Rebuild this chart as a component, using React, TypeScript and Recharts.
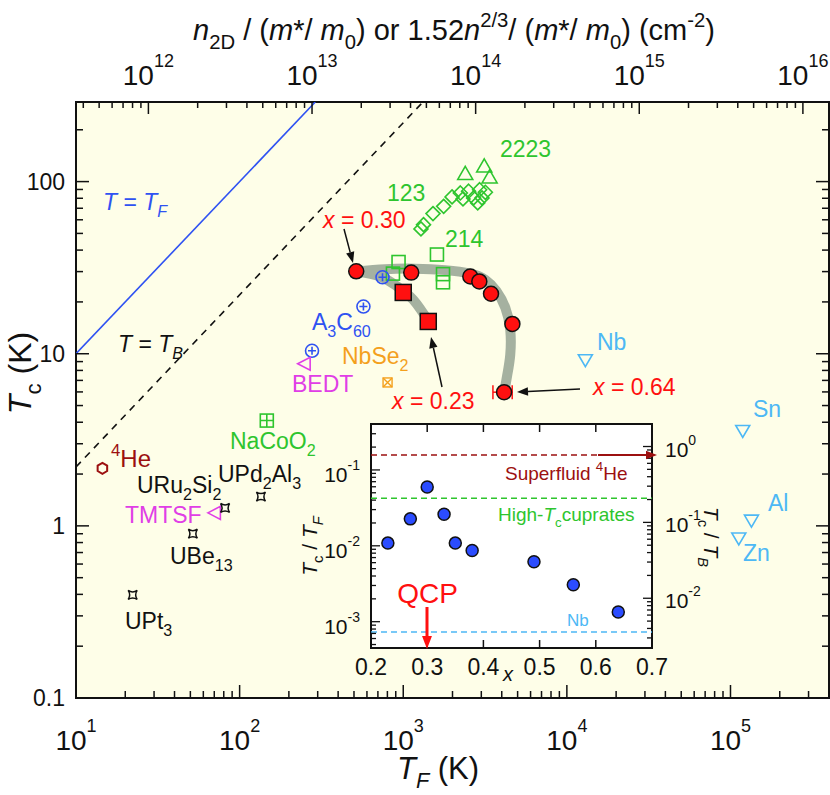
import React from "react";
import {
  ScatterChart,
  Scatter,
  XAxis,
  YAxis,
  CartesianGrid,
  ReferenceArea,
  ReferenceLine,
  ErrorBar,
} from "recharts";

const FONT = "'Liberation Sans', Arial, Helvetica, sans-serif";
const INK = "#111";
const RED = "#ff1010";
const GREEN = "#2ec52e";
const LBLUE = "#4db8f5";
const DRED = "#9c1010";
const MAGENTA = "#e03ee6";
const ORANGE = "#f4a01c";
const BLUE = "#2f52f2";

// ---- main panel: T_c (K) vs T_F (K) ----
const TF_DOMAIN = [10, 4e5];
const TC_DOMAIN = [0.1, 290];
const N_PER_K = 3.61e10; // top axis: n2D/(m*/m0) per kelvin of T_F
const N_DOMAIN = [TF_DOMAIN[0] * N_PER_K, TF_DOMAIN[1] * N_PER_K];
const nAnchor = [{ x: N_DOMAIN[0], y: 1 }, { x: N_DOMAIN[1], y: 1 }];

const tfLine = [{ x: 10, y: 10 }, { x: 290, y: 290 }];
const tbLine = [{ x: 10, y: 2.2 }, { x: 1320, y: 290 }];

// guide band through the doping series
const bandUpperTF = [516, 776, 1183, 1806, 2570, 3175, 3707, 4207, 4508, 4508, 4324, 4148];
const bandUpperTc = [30.1, 31.0, 31.2, 30.6, 29.2, 26.9, 23.2, 18.5, 13.8, 9.87, 7.55, 6.01];
const bandLowerTF = [516, 723, 918, 1151, 1462];
const bandLowerTc = [30.1, 28.1, 24.6, 20.6, 14.9];

// doping series, x = 0.30 ... 0.64 (circles) and x = 0.27, 0.23 (squares)
const circleTF = [516, 1119, 2570, 2917, 3439, 4645, 4133];
const circleTc = [30.1, 29.6, 28.1, 26.3, 22.3, 14.9, 5.98];
const squareTF = [1000, 1422];
const squareTc = [22.7, 15.4];
const x064Err = [{ x: 4133, y: 5.98, ex: [600, 500] }];

// cuprates
const y123TF = [1283, 1330, 1520, 1766, 1987, 2233, 2318, 2508, 2692, 2929, 3028, 3175, 2852];
const y123Tc = [53.1, 56.2, 65.2, 71.8, 81.5, 85.9, 79.3, 87.9, 80.4, 89.7, 80.4, 86.7, 75.2];
const b2223TF = [2393, 3126, 3371];
const b2223Tc = [110, 121.6, 105];
const l214TF = [936, 865, 1607, 1750, 1750];
const l214Tc = [34.1, 29.2, 37.7, 29.0, 26.0];

// other superconductors
const a3c60TF = [747, 571, 277];
const a3c60Tc = [27.8, 18.8, 10.4];
const bedt = [{ x: 248, y: 8.75 }];
const nbse2 = [{ x: 802, y: 6.81 }];
const nacoo2 = [{ x: 146.6, y: 4.09 }];
const he4 = [{ x: 14.5, y: 2.16 }];
const tmtsf = [{ x: 70.1, y: 1.19 }];
const heavyTF = [135, 81.5, 51.8, 22.2]; // UPd2Al3, URu2Si2, UBe13, UPt3
const heavyTc = [1.48, 1.27, 0.9, 0.397];
const elemTF = [12970, 118800, 134300, 112400]; // Nb, Sn, Al, Zn
const elemTc = [9.23, 3.58, 1.08, 0.85];

// ---- inset: T_c/T_F vs x ----
const insetX = [0.23, 0.27, 0.3, 0.33, 0.35, 0.38, 0.49, 0.56, 0.64];
const insetRatio = [0.01086, 0.02265, 0.0597, 0.0261, 0.01086, 0.00867, 0.00615, 0.00307, 0.00134];
const HE4_RATIO = 0.157;
const CUPRATE_RATIO = 0.0425;
const NB_RATIO = 7.3e-4;
const INSET_L_DOMAIN = [4.5e-4, 0.403];
const INSET_R_DOMAIN = [2.21e-3, 1.98];
const INSET_X_TICKS = [0.2, 0.3, 0.4, 0.5, 0.6, 0.7];

const zip = (xs: number[], ys: number[]) => xs.map((x, i) => ({ x, y: ys[i] }));

function decades(lo: number, hi: number) {
  const out: number[] = [];
  for (let e = Math.floor(Math.log10(lo)); e <= Math.ceil(Math.log10(hi)); e++) {
    for (let m = 1; m <= 9; m++) {
      const v = +(m * Math.pow(10, e)).toPrecision(3);
      if (v >= lo * 0.999 && v <= hi * 1.001) out.push(v);
    }
  }
  return out;
}
const isMaj = (v: number) => Math.abs(Math.log10(v) - Math.round(Math.log10(v))) < 1e-6;

// ---- tick renderers ----
const BottomTick = (p: any) => {
  const { x, y } = p;
  const v = p.payload.value;
  const maj = isMaj(v);
  return (
    <g>
      <line x1={x} y1={y} x2={x} y2={y - (maj ? 13 : 7)} stroke={INK} strokeWidth={1.5} />
      {maj && (
        <text x={x} y={y + 52} textAnchor="middle" fontFamily={FONT} fontSize={28} fill={INK}>
          10<tspan dy={-18} fontSize={18}>{Math.round(Math.log10(v))}</tspan>
        </text>
      )}
    </g>
  );
};

const TopTick = (p: any) => {
  const { x, y } = p;
  const v = p.payload.value;
  const maj = isMaj(v);
  return (
    <g>
      <line x1={x} y1={y} x2={x} y2={y + (maj ? 12 : 6)} stroke={INK} strokeWidth={1.5} />
      {maj && (
        <text x={x} y={y - 17} textAnchor="middle" fontFamily={FONT} fontSize={28} fill={INK}>
          10<tspan dy={-18} fontSize={18}>{Math.round(Math.log10(v))}</tspan>
        </text>
      )}
    </g>
  );
};

const PLOT_W = 753;
const LeftTick = (p: any) => {
  const { x, y } = p;
  const v = p.payload.value;
  const maj = isMaj(v);
  const len = maj ? 13 : 7;
  return (
    <g>
      <line x1={x} y1={y} x2={x + len} y2={y} stroke={INK} strokeWidth={1.5} />
      <line x1={x + PLOT_W} y1={y} x2={x + PLOT_W - len} y2={y} stroke={INK} strokeWidth={1.5} />
      {maj && (
        <text x={x - 11} y={y + 8} textAnchor="end" fontFamily={FONT} fontSize={23} fill={INK}>
          {String(v)}
        </text>
      )}
    </g>
  );
};

const INSET_H = 224;
const InsetBottomTick = (p: any) => {
  const { x, y } = p;
  const v = p.payload.value;
  return (
    <g>
      <line x1={x} y1={y} x2={x} y2={y - 8} stroke={INK} strokeWidth={1.5} />
      <line x1={x} y1={y - INSET_H} x2={x} y2={y - INSET_H + 8} stroke={INK} strokeWidth={1.5} />
      <text x={x} y={y + 27} textAnchor="middle" fontFamily={FONT} fontSize={23} fill={INK}>
        {v.toFixed(1)}
      </text>
    </g>
  );
};

const InsetLeftTick = (p: any) => {
  const { x, y } = p;
  const v = p.payload.value;
  const maj = isMaj(v);
  return (
    <g>
      <line x1={x} y1={y} x2={x + (maj ? 9 : 5)} y2={y} stroke={INK} strokeWidth={1.3} />
      {maj && (
        <text x={x - 11} y={y + 12} textAnchor="end" fontFamily={FONT} fontSize={21} fill={INK}>
          10<tspan dy={-12} fontSize={14}>{Math.round(Math.log10(v))}</tspan>
        </text>
      )}
    </g>
  );
};

const InsetRightTick = (p: any) => {
  const { x, y } = p;
  const v = p.payload.value;
  const maj = isMaj(v);
  return (
    <g>
      <line x1={x} y1={y} x2={x - (maj ? 9 : 5)} y2={y} stroke={INK} strokeWidth={1.3} />
      {maj && (
        <text x={x + 13} y={y + 10} textAnchor="start" fontFamily={FONT} fontSize={21} fill={INK}>
          10<tspan dy={-12} fontSize={14}>{Math.round(Math.log10(v))}</tspan>
        </text>
      )}
    </g>
  );
};

// ---- markers ----
function Mark({ cx, cy, kind, color }: any) {
  const sw = 1.6;
  const o = { fill: "none", stroke: color, strokeWidth: sw };
  switch (kind) {
    case "circle":
      return <circle cx={cx} cy={cy} r={7.5} fill={RED} stroke={INK} strokeWidth={1.5} />;
    case "square":
      return <rect x={cx - 8} y={cy - 8} width={16} height={16} fill={RED} stroke={INK} strokeWidth={1.5} />;
    case "dot":
      return <circle cx={cx} cy={cy} r={6} fill="#2b4cff" stroke={INK} strokeWidth={1.5} />;
    case "diamond":
      return <polygon points={`${cx},${cy - 7} ${cx + 7},${cy} ${cx},${cy + 7} ${cx - 7},${cy}`} {...o} />;
    case "triUp":
      return <polygon points={`${cx},${cy - 8} ${cx + 7.5},${cy + 5} ${cx - 7.5},${cy + 5}`} {...o} />;
    case "triDown":
      return <polygon points={`${cx - 7},${cy - 5} ${cx + 7},${cy - 5} ${cx},${cy + 7}`} {...o} />;
    case "triLeft":
      return <polygon points={`${cx - 6.5},${cy} ${cx + 6},${cy - 6.5} ${cx + 6},${cy + 6.5}`} {...o} />;
    case "box":
      return <rect x={cx - 6.5} y={cy - 6.5} width={13} height={13} {...o} />;
    case "circPlus":
      return (
        <g {...o}>
          <circle cx={cx} cy={cy} r={6.5} />
          <path d={`M${cx - 4},${cy}H${cx + 4}M${cx},${cy - 4}V${cy + 4}`} />
        </g>
      );
    case "boxPlus":
      return (
        <g {...o}>
          <rect x={cx - 6.5} y={cy - 6.5} width={13} height={13} />
          <path d={`M${cx - 6.5},${cy}H${cx + 6.5}M${cx},${cy - 6.5}V${cy + 6.5}`} />
        </g>
      );
    case "boxX":
      return (
        <g {...o} strokeWidth={1.4}>
          <rect x={cx - 4.5} y={cy - 4.5} width={9} height={9} />
          <path d={`M${cx - 4.5},${cy - 4.5}L${cx + 4.5},${cy + 4.5}M${cx + 4.5},${cy - 4.5}L${cx - 4.5},${cy + 4.5}`} />
        </g>
      );
    case "hex": {
      const r = 5.5;
      const pts = [0, 1, 2, 3, 4, 5]
        .map((k) => {
          const a = (Math.PI / 3) * k - Math.PI / 2;
          return `${cx + r * Math.cos(a)},${cy + r * Math.sin(a)}`;
        })
        .join(" ");
      return <polygon points={pts} {...o} strokeWidth={2} />;
    }
    case "star4": {
      const s = 4.5;
      const d = `M${cx - s},${cy - s}Q${cx},${cy - s / 3} ${cx + s},${cy - s}Q${cx + s / 3},${cy} ${cx + s},${cy + s}Q${cx},${cy + s / 3} ${cx - s},${cy + s}Q${cx - s / 3},${cy} ${cx - s},${cy - s}Z`;
      return <path d={d} {...o} strokeWidth={1.5} />;
    }
    default:
      return <g />;
  }
}
const shape = (kind: string, color = INK) => (p: any) => <Mark cx={p.cx} cy={p.cy} kind={kind} color={color} />;
const noShape = () => <g />;

// ---- rich text for labels ----
type Seg = [string, string?];
function Rich({ x, y, segs, size = 23, color = INK, anchor = "start", rotate }: any) {
  let cur = 0;
  const kids = (segs as Seg[]).map(([t, f = ""], k) => {
    const sub = f.includes("b");
    const sup = f.includes("p");
    const target = sub ? size * 0.3 : sup ? -size * 0.45 : 0;
    const dy = target - cur;
    cur = target;
    return (
      <tspan key={k} dy={dy} fontSize={sub || sup ? size * 0.7 : size} fontStyle={f.includes("i") ? "italic" : "normal"}>
        {t}
      </tspan>
    );
  });
  return (
    <text
      x={x}
      y={y}
      fontSize={size}
      fill={color}
      textAnchor={anchor}
      fontFamily={FONT}
      style={{ whiteSpace: "pre" }}
      transform={rotate ? `rotate(${rotate} ${x} ${y})` : undefined}
    >
      {kids}
    </text>
  );
}

function Arrow({ x1, y1, x2, y2, color = INK, w = 1.5, head = 11 }: any) {
  const a = Math.atan2(y2 - y1, x2 - x1);
  const hw = head * 0.38;
  const bx = x2 - head * Math.cos(a);
  const by = y2 - head * Math.sin(a);
  const p1 = `${bx + hw * Math.sin(a)},${by - hw * Math.cos(a)}`;
  const p2 = `${bx - hw * Math.sin(a)},${by + hw * Math.cos(a)}`;
  return (
    <g>
      <line x1={x1} y1={y1} x2={bx} y2={by} stroke={color} strokeWidth={w} />
      <polygon points={`${x2},${y2} ${p1} ${p2}`} fill={color} />
    </g>
  );
}

const labels = [
  { x: 103, y: 210, c: BLUE, s: [["T", "i"], [" = "], ["T", "i"], ["F", "ib"]] },
  { x: 118, y: 352, c: INK, s: [["T", "i"], [" = "], ["T", "i"], ["B", "ib"]] },
  { x: 323, y: 228, c: RED, s: [["x", "i"], [" = 0.30"]] },
  { x: 392, y: 409, c: RED, s: [["x", "i"], [" = 0.23"]] },
  { x: 593, y: 395, c: RED, s: [["x", "i"], [" = 0.64"]] },
  { x: 500, y: 157, c: GREEN, s: [["2223"]] },
  { x: 387, y: 201, c: GREEN, s: [["123"]] },
  { x: 445, y: 247, c: GREEN, s: [["214"]] },
  { x: 312, y: 330, c: BLUE, s: [["A"], ["3", "b"], ["C"], ["60", "b"]] },
  { x: 342, y: 364, c: ORANGE, s: [["NbSe"], ["2", "b"]] },
  { x: 292, y: 392, c: MAGENTA, s: [["BEDT"]] },
  { x: 230, y: 449, c: GREEN, s: [["NaCoO"], ["2", "b"]] },
  { x: 597, y: 350, c: LBLUE, s: [["Nb"]] },
  { x: 753, y: 417, c: LBLUE, s: [["Sn"]] },
  { x: 768, y: 511, c: LBLUE, s: [["Al"]] },
  { x: 743, y: 561, c: LBLUE, s: [["Zn"]] },
  { x: 111, y: 467, c: DRED, s: [["4", "p"], ["He"]], size: 24 },
  { x: 218, y: 482, c: INK, s: [["UPd"], ["2", "b"], ["Al"], ["3", "b"]] },
  { x: 137, y: 493, c: INK, s: [["URu"], ["2", "b"], ["Si"], ["2", "b"]] },
  { x: 125, y: 523, c: MAGENTA, s: [["TMTSF"]] },
  { x: 170, y: 564, c: INK, s: [["UBe"], ["13", "b"]] },
  { x: 125, y: 629, c: INK, s: [["UPt"], ["3", "b"]] },
  // inset
  { x: 505, y: 480, c: DRED, size: 19, s: [["Superfluid "], ["4", "p"], ["He"]] },
  { x: 498, y: 521, c: GREEN, size: 19, s: [["High-"], ["T", "i"], ["c", "b"], ["cuprates"]] },
  { x: 567, y: 626, c: LBLUE, size: 17, s: [["Nb"]] },
];

const arrows = [
  { x1: 344, y1: 229, x2: 353, y2: 263 },
  { x1: 442, y1: 387, x2: 431, y2: 337 },
  { x1: 580, y1: 389, x2: 517, y2: 392 },
  { x1: 598, y1: 455, x2: 657, y2: 455, color: DRED, w: 2 },
  { x1: 427, y1: 607, x2: 427, y2: 649, color: RED, w: 3, head: 13 },
];

export default function App() {
  return (
    <div style={{ position: "absolute", left: 0, top: 0, width: 830, height: 795, background: "#fff" }}>
      <div style={{ position: "absolute", left: 0, top: 0 }}>
        <ScatterChart width={830} height={795} margin={{ top: 0, right: 1, bottom: 0, left: 0 }}>
          <CartesianGrid horizontal={false} vertical={false} fill="#fefee8" />
          <XAxis
            type="number"
            dataKey="x"
            scale="log"
            domain={TF_DOMAIN}
            allowDataOverflow
            ticks={decades(TF_DOMAIN[0], TF_DOMAIN[1])}
            interval={0}
            height={97}
            axisLine={false}
            tickLine={false}
            tickSize={0}
            tickMargin={0}
            tick={BottomTick}
          />
          <XAxis
            xAxisId="top"
            orientation="top"
            type="number"
            dataKey="x"
            scale="log"
            domain={N_DOMAIN}
            allowDataOverflow
            ticks={decades(N_DOMAIN[0], N_DOMAIN[1])}
            interval={0}
            height={102}
            axisLine={false}
            tickLine={false}
            tickSize={0}
            tickMargin={0}
            tick={TopTick}
          />
          <YAxis
            type="number"
            dataKey="y"
            scale="log"
            domain={TC_DOMAIN}
            allowDataOverflow
            ticks={decades(TC_DOMAIN[0], TC_DOMAIN[1])}
            interval={0}
            width={76}
            axisLine={false}
            tickLine={false}
            tickSize={0}
            tickMargin={0}
            tick={LeftTick}
          />
          <ReferenceArea
            x1={TF_DOMAIN[0]}
            x2={TF_DOMAIN[1]}
            y1={TC_DOMAIN[0]}
            y2={TC_DOMAIN[1]}
            fill="none"
            stroke={INK}
            strokeWidth={2}
          />
          <Scatter xAxisId="top" data={nAnchor} shape={noShape} isAnimationActive={false} />
          <Scatter
            data={zip(bandUpperTF, bandUpperTc)}
            line={{ stroke: "#a5b1a0", strokeWidth: 10, strokeLinecap: "round" }}
            lineJointType="natural"
            shape={noShape}
            isAnimationActive={false}
          />
          <Scatter
            data={zip(bandLowerTF, bandLowerTc)}
            line={{ stroke: "#a5b1a0", strokeWidth: 10, strokeLinecap: "round" }}
            lineJointType="natural"
            shape={noShape}
            isAnimationActive={false}
          />
          <Scatter data={tfLine} line={{ stroke: BLUE, strokeWidth: 1.6 }} shape={noShape} isAnimationActive={false} />
          <Scatter
            data={tbLine}
            line={{ stroke: INK, strokeWidth: 1.6, strokeDasharray: "7 6" }}
            shape={noShape}
            isAnimationActive={false}
          />
          <Scatter data={zip(y123TF, y123Tc)} shape={shape("diamond", GREEN)} isAnimationActive={false} />
          <Scatter data={zip(b2223TF, b2223Tc)} shape={shape("triUp", GREEN)} isAnimationActive={false} />
          <Scatter data={zip(l214TF, l214Tc)} shape={shape("box", GREEN)} isAnimationActive={false} />
          <Scatter data={zip(a3c60TF, a3c60Tc)} shape={shape("circPlus", BLUE)} isAnimationActive={false} />
          <Scatter data={bedt} shape={shape("triLeft", MAGENTA)} isAnimationActive={false} />
          <Scatter data={nbse2} shape={shape("boxX", ORANGE)} isAnimationActive={false} />
          <Scatter data={nacoo2} shape={shape("boxPlus", GREEN)} isAnimationActive={false} />
          <Scatter data={he4} shape={shape("hex", DRED)} isAnimationActive={false} />
          <Scatter data={tmtsf} shape={shape("triLeft", MAGENTA)} isAnimationActive={false} />
          <Scatter data={zip(heavyTF, heavyTc)} shape={shape("star4", INK)} isAnimationActive={false} />
          <Scatter data={zip(elemTF, elemTc)} shape={shape("triDown", LBLUE)} isAnimationActive={false} />
          <Scatter data={x064Err} shape={noShape} isAnimationActive={false}>
            <ErrorBar dataKey="ex" direction="x" width={7} stroke={RED} strokeWidth={1.5} />
          </Scatter>
          <Scatter data={zip(squareTF, squareTc)} shape={shape("square")} isAnimationActive={false} />
          <Scatter data={zip(circleTF, circleTc)} shape={shape("circle")} isAnimationActive={false} />
        </ScatterChart>
      </div>

      <div style={{ position: "absolute", left: 300, top: 415 }}>
        <ScatterChart width={430} height={280} margin={{ top: 9, right: 0, bottom: 0, left: 0 }}>
          <CartesianGrid horizontal={false} vertical={false} fill="#ffffff" />
          <XAxis
            type="number"
            dataKey="x"
            domain={[0.2, 0.7]}
            allowDataOverflow
            ticks={INSET_X_TICKS}
            interval={0}
            height={47}
            axisLine={false}
            tickLine={false}
            tickSize={0}
            tickMargin={0}
            tick={InsetBottomTick}
          />
          <YAxis
            type="number"
            dataKey="y"
            scale="log"
            domain={INSET_L_DOMAIN}
            allowDataOverflow
            ticks={decades(INSET_L_DOMAIN[0], INSET_L_DOMAIN[1])}
            interval={0}
            width={71}
            axisLine={false}
            tickLine={false}
            tickSize={0}
            tickMargin={0}
            tick={InsetLeftTick}
          />
          <YAxis
            yAxisId="r"
            orientation="right"
            type="number"
            scale="log"
            domain={INSET_R_DOMAIN}
            allowDataOverflow
            ticks={decades(INSET_R_DOMAIN[0], INSET_R_DOMAIN[1])}
            interval={0}
            width={78}
            axisLine={false}
            tickLine={false}
            tickSize={0}
            tickMargin={0}
            tick={InsetRightTick}
          />
          <ReferenceArea
            x1={0.2}
            x2={0.7}
            y1={INSET_L_DOMAIN[0]}
            y2={INSET_L_DOMAIN[1]}
            fill="none"
            stroke={INK}
            strokeWidth={2}
          />
          <ReferenceLine y={HE4_RATIO} stroke={DRED} strokeWidth={1.5} strokeDasharray="6 4" />
          <ReferenceLine y={CUPRATE_RATIO} stroke={GREEN} strokeWidth={1.5} strokeDasharray="6 4" />
          <ReferenceLine y={NB_RATIO} stroke={LBLUE} strokeWidth={1.5} strokeDasharray="6 4" />
          <Scatter data={zip(insetX, insetRatio)} shape={shape("dot")} isAnimationActive={false} />
        </ScatterChart>
      </div>

      <svg width={830} height={795} style={{ position: "absolute", left: 0, top: 0, pointerEvents: "none" }}>
        {arrows.map((a, i) => (
          <Arrow key={i} {...a} />
        ))}
        {labels.map((l, i) => (
          <Rich key={i} x={l.x} y={l.y} segs={l.s} color={l.c} size={(l as any).size || 23} />
        ))}
        <Rich x={427.5} y={603} segs={[["QCP"]]} color={RED} size={28} anchor="middle" />
        <Rich x={508} y={681} segs={[["x", "i"]]} size={20} anchor="middle" />
        <Rich x={317} y={546} segs={[["T", "i"], ["c", "b"], [" / "], ["T", "i"], ["F", "ib"]]} size={21} anchor="middle" rotate={-90} />
        <Rich x={704} y={537} segs={[["T", "i"], ["c", "b"], [" / "], ["T", "i"], ["B", "ib"]]} size={21} anchor="middle" rotate={90} />
        <Rich x={31} y={373} segs={[["T", "i"], ["c", "b"], [" (K)"]]} size={32} anchor="middle" rotate={-90} />
        <Rich x={438} y={779} segs={[["T", "i"], ["F", "ib"], [" (K)"]]} size={31} anchor="middle" />
        <Rich
          x={454}
          y={40}
          size={29}
          anchor="middle"
          segs={[
            ["n", "i"], ["2D", "b"], [" / ("], ["m", "i"], ["*/ "], ["m", "i"], ["0", "b"], [") or 1.52"],
            ["n", "i"], ["2/3", "p"], ["/ ("], ["m", "i"], ["*/ "], ["m", "i"], ["0", "b"], [") (cm"], ["-2", "p"], [")"],
          ]}
        />
      </svg>
    </div>
  );
}
